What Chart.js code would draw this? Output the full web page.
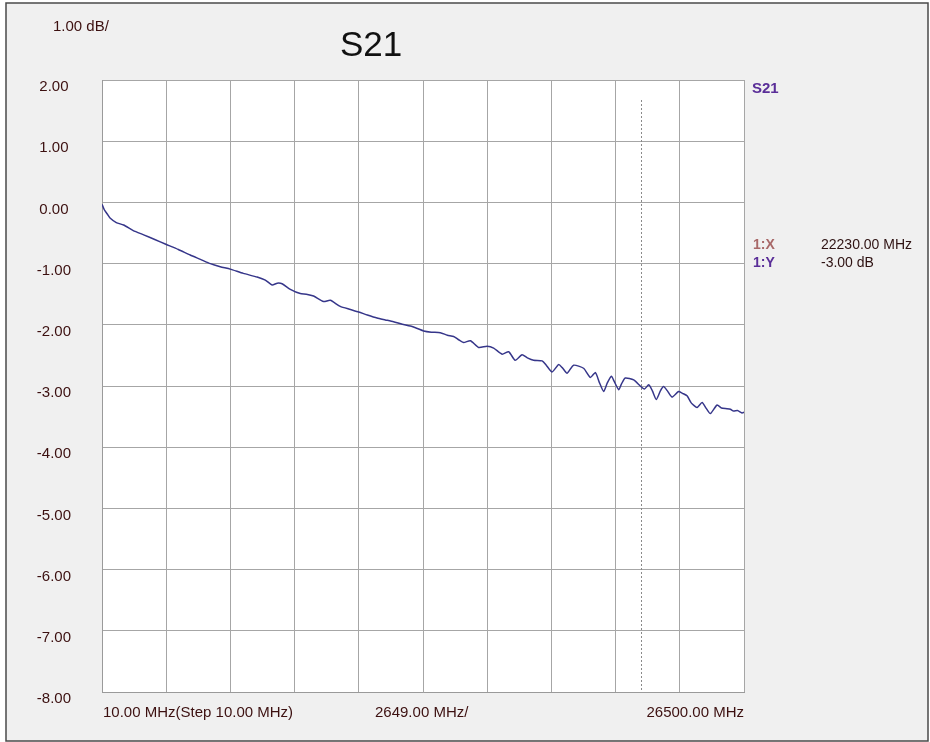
<!DOCTYPE html>
<html lang="en">
<head>
  <meta charset="UTF-8">
  <title>S21</title>
  <script src="https://cdn.jsdelivr.net/npm/chart.js"></script>
  <style>
    html, body { margin: 0; padding: 0; background: #fff; }
    canvas { display: block; }
  </style>
</head>
<body>
  <canvas id="s21Chart" width="930" height="742"></canvas>

  <script>
    // sweep points (MHz, dB)
    const freqMHz = [10, 105, 229, 352, 600, 900, 1300, 1730, 2210, 2620, 3160, 3650, 4070, 4480, 4890,
      5300, 5840, 6410, 6750, 7030, 7240, 7440, 7780, 8190, 8440, 8740, 9150, 9430, 9840, 10260,
      10600, 10960, 11360, 11700, 12040, 12400, 12730, 13020, 13280, 13600, 13970, 14260, 14520, 14710, 14930,
      15210, 15550, 15900, 16170, 16520, 16790, 17060, 17340, 17560, 17820, 18170, 18340, 18580, 18850, 19000,
      19200, 19470, 19880, 20160, 20370, 20530, 20710, 20860, 21030, 21150, 21330, 21440, 21600, 21950, 22220,
      22390, 22570, 22720, 22880, 23050, 23180, 23340, 23530, 23800, 23960, 24150, 24330, 24560, 24770, 24950,
      25110, 25390, 25570, 25800, 25940, 26070, 26230, 26420, 26500];
    const s21dB = [-0.03, -0.12, -0.19, -0.26, -0.33, -0.37, -0.46, -0.53, -0.61, -0.68, -0.77, -0.86, -0.93, -1.00, -1.05,
      -1.09, -1.16, -1.22, -1.27, -1.35, -1.32, -1.33, -1.42, -1.49, -1.50, -1.53, -1.62, -1.60, -1.70, -1.75,
      -1.79, -1.84, -1.89, -1.92, -1.95, -1.99, -2.02, -2.06, -2.10, -2.12, -2.13, -2.17, -2.19, -2.24, -2.29,
      -2.26, -2.37, -2.35, -2.38, -2.48, -2.44, -2.58, -2.49, -2.54, -2.58, -2.59, -2.66, -2.77, -2.65, -2.70,
      -2.79, -2.66, -2.71, -2.86, -2.78, -2.94, -3.09, -2.95, -2.84, -2.93, -3.06, -2.97, -2.87, -2.90, -3.00,
      -3.05, -2.98, -3.08, -3.22, -3.08, -3.01, -3.08, -3.18, -3.09, -3.12, -3.16, -3.28, -3.35, -3.27, -3.37,
      -3.45, -3.31, -3.36, -3.37, -3.38, -3.41, -3.40, -3.44, -3.43];

    const xGridMHz = [10, 2659, 5308, 7957, 10606, 13255, 15904, 18553, 21202, 23851, 26500];
    const markerX = 22230;
    const markerY = -3.00;

    const FONT = '"Liberation Sans", Arial, sans-serif';
    const LABEL_COLOR = '#3c1010';

    // frame, texts and the marker line
    const analyzerDecor = {
      id: 'analyzerDecor',
      beforeDraw(chart) {
        const ctx = chart.ctx;
        const a = chart.chartArea;
        ctx.save();
        ctx.fillStyle = '#ffffff';
        ctx.fillRect(0, 0, chart.width, chart.height);
        ctx.fillStyle = '#f0f0f0';
        ctx.fillRect(6, 3, 922, 738);
        ctx.strokeStyle = '#4a4a4a';
        ctx.lineWidth = 1.5;
        ctx.strokeRect(6, 3, 922, 738);
        ctx.fillStyle = '#ffffff';
        ctx.fillRect(a.left, a.top, a.right - a.left, a.bottom - a.top);
        ctx.restore();
      },
      beforeDatasetsDraw(chart) {
        const ctx = chart.ctx;
        const a = chart.chartArea;
        const px = chart.scales.x.getPixelForValue(markerX);
        ctx.save();
        ctx.strokeStyle = '#8a8a8a';
        ctx.lineWidth = 1;
        ctx.setLineDash([2, 2]);
        ctx.beginPath();
        ctx.moveTo(Math.round(px) + 0.5, a.top + 20);
        ctx.lineTo(Math.round(px) + 0.5, a.bottom);
        ctx.stroke();
        ctx.restore();
      },
      afterDraw(chart) {
        const ctx = chart.ctx;
        const a = chart.chartArea;
        ctx.save();
        ctx.textBaseline = 'middle';

        ctx.fillStyle = LABEL_COLOR;
        ctx.font = '15px ' + FONT;
        ctx.textAlign = 'left';
        ctx.fillText('1.00 dB/', 53, 27);

        ctx.fillStyle = '#111111';
        ctx.font = '35px ' + FONT;
        ctx.fillText('S21', 340, 46);

        ctx.fillStyle = '#5a2e98';
        ctx.font = 'bold 15px ' + FONT;
        ctx.fillText('S21', 752, 89);

        ctx.font = 'bold 14px ' + FONT;
        ctx.fillStyle = '#a86868';
        ctx.fillText('1:X', 753, 245);
        ctx.fillStyle = '#5a2e98';
        ctx.fillText('1:Y', 753, 263);
        ctx.font = '14px ' + FONT;
        ctx.fillStyle = '#2e1212';
        ctx.fillText(markerX.toFixed(2) + ' MHz', 821, 245);
        ctx.fillText(markerY.toFixed(2) + ' dB', 821, 263);

        ctx.fillStyle = LABEL_COLOR;
        ctx.font = '15px ' + FONT;
        ctx.fillText('10.00 MHz(Step 10.00 MHz)', 103, 713);
        ctx.fillText('2649.00 MHz/', 375, 713);
        ctx.textAlign = 'right';
        ctx.fillText('26500.00 MHz', a.right, 713);
        ctx.restore();
      }
    };

    new Chart(document.getElementById('s21Chart'), {
      type: 'line',
      data: {
        datasets: [{
          label: 'S21',
          data: freqMHz.map((f, i) => ({ x: f, y: s21dB[i] })),
          borderColor: '#36368a',
          borderWidth: 1.5,
          pointRadius: 0,
          tension: 0.2,
          fill: false
        }]
      },
      options: {
        responsive: false,
        animation: false,
        layout: { padding: { left: 0, right: 186, top: 80, bottom: 0 } },
        plugins: {
          legend: { display: false },
          tooltip: { enabled: false }
        },
        scales: {
          x: {
            type: 'linear',
            min: 10,
            max: 26500,
            afterBuildTicks: scale => { scale.ticks = xGridMHz.map(v => ({ value: v })); },
            afterFit: scale => { scale.height = 50; },
            ticks: { display: false },
            grid: { color: '#a6a6a6', lineWidth: 1, drawTicks: false },
            border: { display: true, color: '#9a9a9a', width: 1 }
          },
          y: {
            min: -8,
            max: 2,
            afterFit: scale => { scale.width = 102; },
            ticks: {
              stepSize: 1,
              crossAlign: 'center',
              padding: 31,
              labelOffset: 7,
              color: LABEL_COLOR,
              font: { family: FONT, size: 15 },
              callback: v => Number(v).toFixed(2)
            },
            grid: { color: '#a6a6a6', lineWidth: 1, drawTicks: false },
            border: { display: true, color: '#9a9a9a', width: 1 }
          }
        }
      },
      plugins: [analyzerDecor]
    });
  </script>
</body>
</html>
